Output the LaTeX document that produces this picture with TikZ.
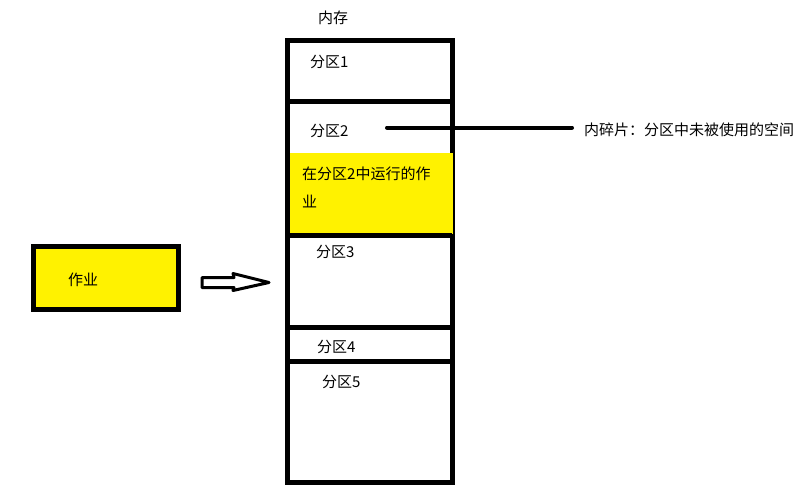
\documentclass[tikz,border=0pt]{standalone}
\usepackage{fontspec}
\setmainfont{Noto Sans CJK SC}
\definecolor{jobyellow}{HTML}{FFF200}
\tikzset{
  wall/.style={line width=5pt},
  lbl/.style={anchor=west,inner sep=0pt,font=\fontsize{15}{28}\selectfont},
  jobbox/.style={draw,line width=5pt,fill=jobyellow,minimum width=145pt,minimum height=63pt,inner sep=0pt},
}

\begin{document}
\begin{tikzpicture}[x=1pt,y=-1pt]
\useasboundingbox (0,0) rectangle (807,499);
\coordinate (m1) at (287.5,40.5); \coordinate (m2) at (452,482);
\draw[wall] (m1) rectangle (m2);
\fill[jobyellow] (290,153) rectangle (453,233.5);
\foreach \y in {101.5,235.5,327.5,361} \draw[wall] (287.5,\y) -- (452,\y);
\node[anchor=center,inner sep=0pt,font=\fontsize{15}{18}\selectfont] (mem) at (333,18) {内存};
\node[lbl] (p1) at (310,62) {分区1};
\node[lbl] (p2) at (310,131) {分区2};
\node[lbl,align=left,anchor=north west] (run) at (302,167) {在分区2中运行的作\\业};
\node[lbl] (p3) at (316,252) {分区3};
\node[lbl] (p4) at (317,346.5) {分区4};
\node[lbl] (p5) at (322,382) {分区5};
\node[jobbox] (job) at (106,278) {};
\node[lbl] (jobtext) at (68,280) {作业};
\draw[line width=3pt,line join=round] (202,277.5) -- (234,277.5) -- (233,273.5) -- (269,282.5) -- (233,290.5) -- (234,287.5) -- (202,287.5) -- cycle;
\coordinate (fragstart) at (387,127.5);
\node[lbl] (frag) at (584,130) {内碎片：分区中未被使用的空间};
\draw[line width=4pt,line cap=round,shorten >=12pt] (fragstart) -- (fragstart -| frag.west);
\end{tikzpicture}
\end{document}
